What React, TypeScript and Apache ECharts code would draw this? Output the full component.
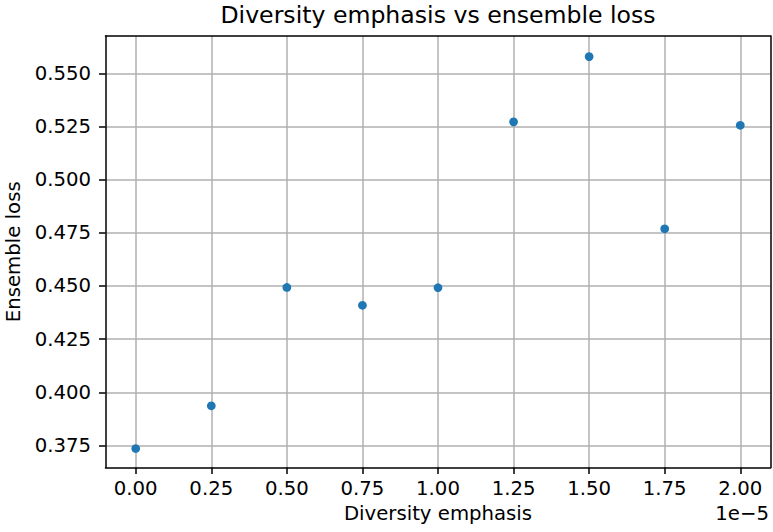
import React, { useEffect, useRef } from "react";
import * as echarts from "echarts";

const diversityEmphasis = [0, 0.25, 0.5, 0.75, 1.0, 1.25, 1.5, 1.75, 2.0];
const ensembleLoss = [0.3735, 0.3936, 0.4493, 0.4409, 0.4492, 0.5272, 0.5579, 0.4769, 0.5256];
const xTicks = [0, 0.25, 0.5, 0.75, 1.0, 1.25, 1.5, 1.75, 2.0];
const yTicks = [0.375, 0.4, 0.425, 0.45, 0.475, 0.5, 0.525, 0.55];

const FONT = "DejaVu Sans";
const FS = 19.7;
const LW = 1.5;

export default function App() {
  const ref = useRef<HTMLDivElement>(null);
  useEffect(() => {
    document.body.style.margin = "0";
    const chart = echarts.init(ref.current!, null, { renderer: "svg" });
    const frameAxis = {
      type: "value",
      axisLine: { show: true, onZero: false, lineStyle: { color: "#000", width: LW } },
      axisTick: { show: false },
      axisLabel: { show: false },
      splitLine: { show: false },
    };
    chart.setOption({
      animation: false,
      backgroundColor: "#ffffff",
      textStyle: { fontFamily: FONT },
      grid: {
        left: 105.5,
        right: 2.5,
        top: 36,
        bottom: 64.5,
        containLabel: false,
        outerBoundsMode: "none",
        show: false,
      },
      graphic: [
        {
          type: "text",
          x: 438,
          y: 3,
          style: {
            text: "Diversity emphasis vs ensemble loss",
            fontFamily: FONT,
            fontSize: 23.6,
            fill: "#000",
            textAlign: "center",
            textVerticalAlign: "top",
          },
        },
        {
          type: "text",
          x: 769,
          y: 503,
          style: {
            text: "1e\u22125",
            fontFamily: FONT,
            fontSize: FS,
            fill: "#000",
            textAlign: "right",
            textVerticalAlign: "top",
          },
        },
      ],
      xAxis: [
        {
          type: "value",
          min: -0.1,
          max: 2.1,
          name: "Diversity emphasis",
          nameLocation: "middle",
          nameGap: 36,
          nameTextStyle: { fontFamily: FONT, fontSize: FS, color: "#000" },
          axisLine: { show: true, onZero: false, lineStyle: { color: "#000", width: LW } },
          axisTick: { show: true, length: 6.5, customValues: xTicks, lineStyle: { color: "#000", width: LW } },
          axisLabel: {
            customValues: xTicks,
            margin: 11,
            fontFamily: FONT,
            fontSize: FS,
            color: "#000",
            formatter: (v: number) => v.toFixed(2),
          },
          splitLine: { show: true, lineStyle: { color: "#b0b0b0", width: LW } },
        },
        { ...frameAxis, position: "top", min: -0.1, max: 2.1 },
      ],
      yAxis: [
        {
          type: "value",
          min: 0.3646,
          max: 0.5676,
          name: "Ensemble loss",
          nameLocation: "middle",
          nameGap: 80,
          nameTextStyle: { fontFamily: FONT, fontSize: FS, color: "#000" },
          axisLine: { show: true, onZero: false, lineStyle: { color: "#000", width: LW } },
          axisTick: { show: true, length: 6.5, customValues: yTicks, lineStyle: { color: "#000", width: LW } },
          axisLabel: {
            customValues: yTicks,
            margin: 14.5,
            fontFamily: FONT,
            fontSize: FS,
            color: "#000",
            formatter: (v: number) => v.toFixed(3),
          },
          splitLine: { show: true, lineStyle: { color: "#b0b0b0", width: LW } },
        },
        { ...frameAxis, position: "right", min: 0.3646, max: 0.5676 },
      ],
      series: [
        {
          type: "scatter",
          data: diversityEmphasis.map((x, i) => [x, ensembleLoss[i]]),
          symbol: "circle",
          symbolSize: 8.7,
          itemStyle: { color: "#1f77b4", opacity: 1 },
          z: 5,
        },
      ],
    });
    return () => chart.dispose();
  }, []);
  return <div ref={ref} style={{ width: 773, height: 532 }} />;
}
